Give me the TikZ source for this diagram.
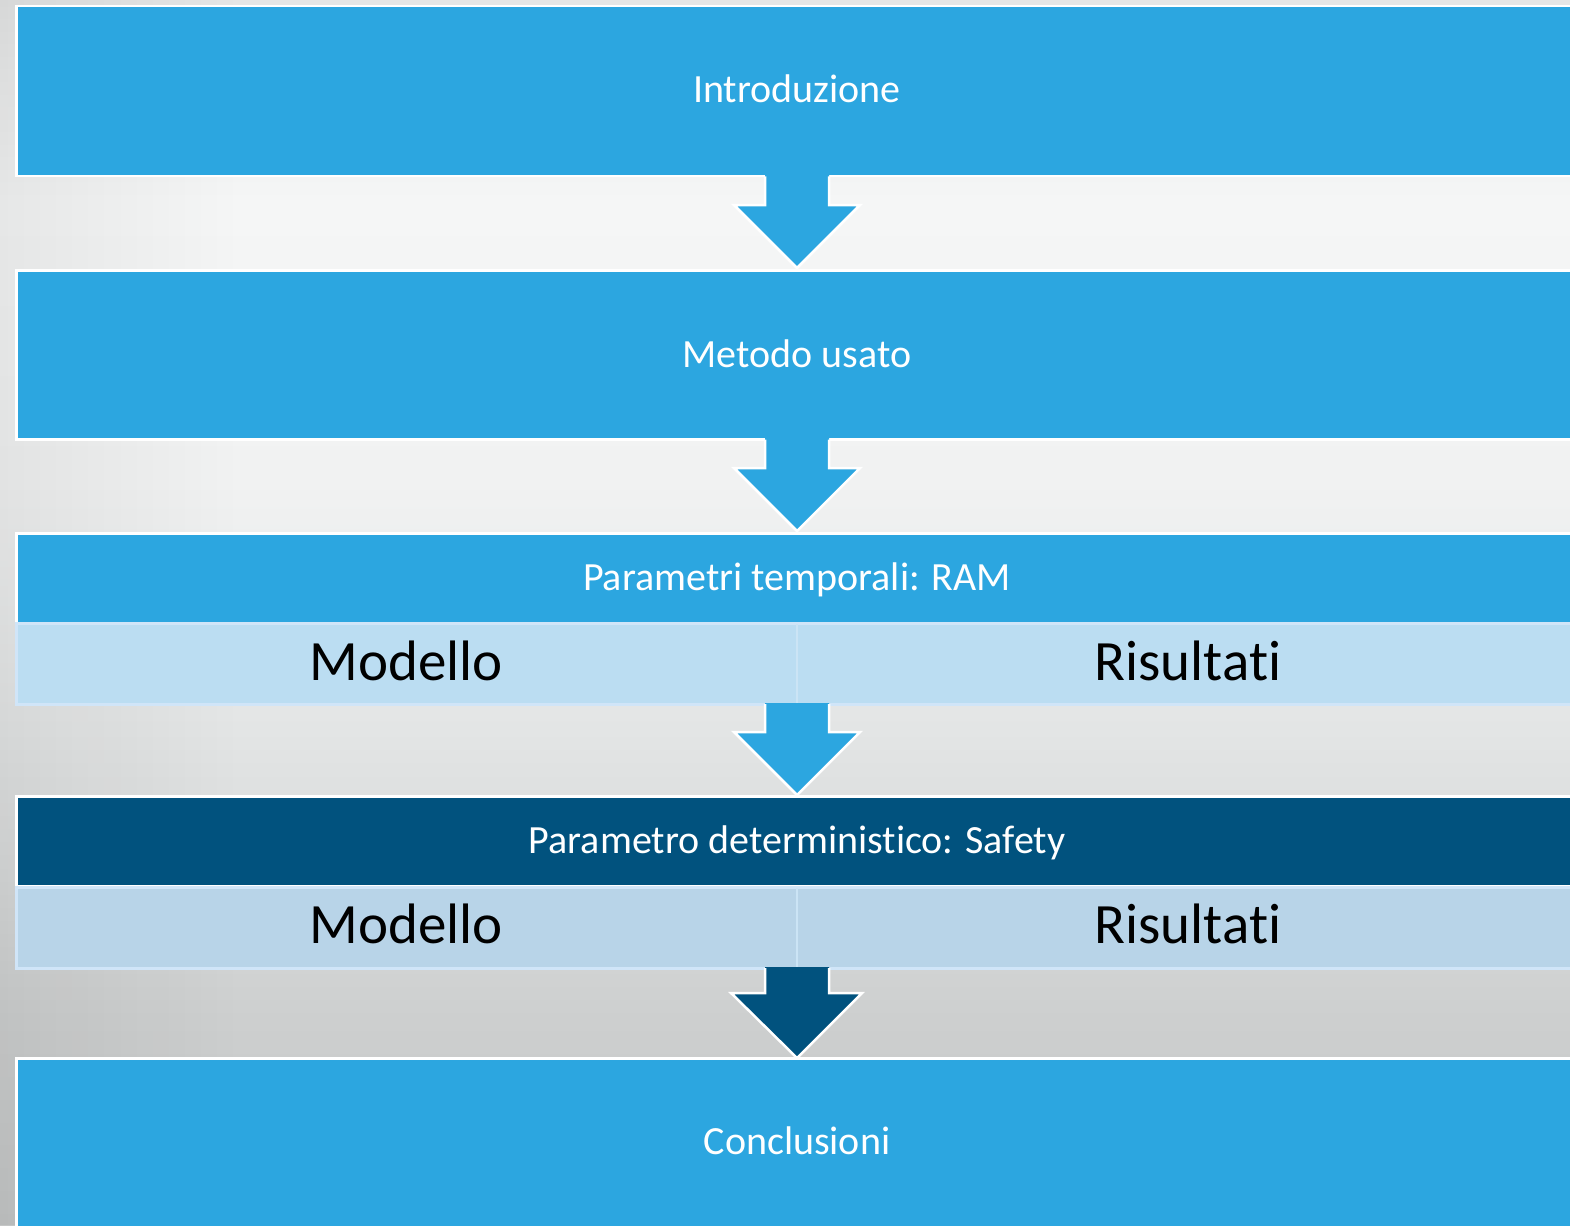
\documentclass[tikz,border=0pt]{standalone}
\usepackage{fontspec}
\setmainfont{Carlito}[Ligatures={NoCommon,NoRare,NoContextual}]
\usetikzlibrary{fadings,calc}
\definecolor{cblue}{HTML}{2CA6E0}
\definecolor{clight}{HTML}{BBDDF2}
\definecolor{clighttwo}{HTML}{B8D4E8}
\definecolor{cdark}{HTML}{01527E}
\definecolor{crim}{HTML}{D0E5F8}
\definecolor{cdiv}{HTML}{CBE4F5}
\definecolor{bgA}{HTML}{E5E6E6}
\definecolor{bgB}{HTML}{F5F6F6}
\definecolor{bgC}{HTML}{F1F2F2}
\definecolor{bgD}{HTML}{E3E5E5}
\definecolor{bgE}{HTML}{CDCFCF}
\definecolor{bgF}{HTML}{C4C6C6}
\pgfdeclareverticalshading{bgshade}{100bp}{color(0bp)=(bgF); color(25bp)=(bgF); color(33.4bp)=(bgE); color(45.2bp)=(bgD); color(55.4bp)=(bgC); color(66.8bp)=(bgB); color(75bp)=(bgA); color(100bp)=(bgA)}
\begin{document}
\begin{tikzpicture}[x=1pt,y=-1pt,
  box/.style={rectangle, draw=white, line width=2.5pt, fill=cblue, minimum width=1600pt, anchor=north west, inner sep=0pt},
  row/.style={rectangle, draw=crim, line width=2.5pt, fill=clight, minimum width=1600pt, anchor=north west, inner sep=0pt},
  hdr/.style={text=white, font=\fontsize{40}{48}\selectfont, anchor=base, inner sep=0pt},
  big/.style={text=black, font=\fontsize{57}{68}\selectfont, anchor=base, inner sep=0pt},
  arrline/.style={draw=white, line width=2.5pt, line join=miter}]
\useasboundingbox (0,0) rectangle (1570,1225);
\clip (0,0) rectangle (1570,1225);
\shade[shading=bgshade] (0,0) rectangle (1570,1225);
\fill[black, opacity=0.06, path fading=east] (0,0) rectangle (240,1225);

% boxes
\node[box, minimum height=170pt] (b1) at (15,5) {};
\node[box, minimum height=169pt] (b2) at (15,269) {};
\node[box, minimum height=90pt] (h3) at (15,532) {};
\node[row, minimum height=81pt] (r3) at (15,622) {};
\node[box, fill=cdark, minimum height=90pt] (h4) at (15,795) {};
\node[row, fill=clighttwo, minimum height=81pt] (r4) at (15,886) {};
\node[box, minimum height=180pt] (b5) at (15,1057) {};

% dividers
\draw[cdiv, line width=2pt] ($(r3.north west)+(782,2)$) -- ($(r3.south west)+(782,-2)$);
\draw[cdiv, line width=2pt] ($(r4.north west)+(782,2)$) -- ($(r4.south west)+(782,-2)$);

% arrows
\fill[cblue] (765,170) -- (765,205) -- (734,205) -- (797,268) -- (860,205) -- (829,205) -- (829,170) -- cycle;
\draw[arrline] (765,176.5) -- (765,205) -- (734,205) -- (797,268) -- (860,205) -- (829,205) -- (829,176.5);

\fill[cblue] (765,433) -- (765,468) -- (734,468) -- (797,531) -- (860,468) -- (829,468) -- (829,433) -- cycle;
\draw[arrline] (765,439.5) -- (765,468) -- (734,468) -- (797,531) -- (860,468) -- (829,468) -- (829,439.5);

\fill[cblue] (765,703) -- (765,732) -- (734,732) -- (797,795) -- (860,732) -- (829,732) -- (829,703) -- cycle;
\draw[arrline] (765,704) -- (765,732) -- (734,732) -- (797,795) -- (860,732) -- (829,732) -- (829,704);

\fill[cdark] (765,967) -- (765,993) -- (731,993) -- (797,1058) -- (862,993) -- (829,993) -- (829,967) -- cycle;
\draw[arrline] (765,968) -- (765,993) -- (731,993) -- (797,1058) -- (862,993) -- (829,993) -- (829,968);

% texts
\node[hdr] (t1) at (797,103) {Introduzione};
\node[hdr] (t2) at (797,367) {Metodo usato};
\node[hdr] (t3) at (797,590) {Parametri temporali: RAM};
\node[big] (m3) at (406,680) {Modello};
\node[big] (s3) at (1188,680) {Risultati};
\node[hdr] (t4) at (797,853) {Parametro deterministico: Safety};
\node[big] (m4) at (406,943) {Modello};
\node[big] (s4) at (1188,943) {Risultati};
\node[hdr] (t5) at (797,1154) {Conclusioni};
\end{tikzpicture}
\end{document}
